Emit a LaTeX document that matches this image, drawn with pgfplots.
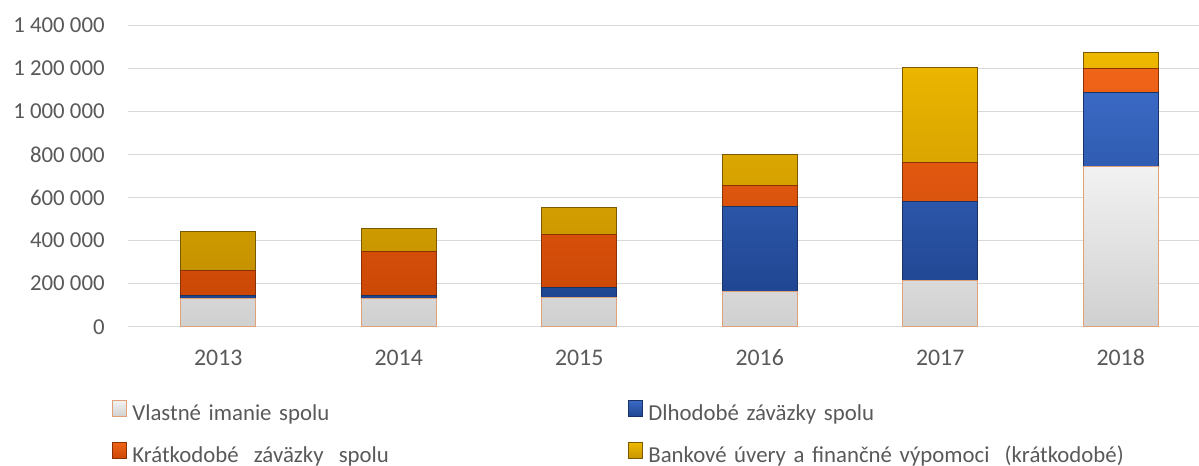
\documentclass[border=0pt]{standalone}
\usepackage{pgfplots}
\pgfplotsset{compat=1.18}
\usepackage{fontspec}
\setmainfont{Carlito}
\definecolor{tickgray}{HTML}{595959}
\definecolor{gridgray}{HTML}{D9D9D9}
\definecolor{gtop}{HTML}{F2F2F2}
\definecolor{gbot}{HTML}{D0D0D0}
\definecolor{gdraw}{HTML}{E0A07A}
\definecolor{btop}{HTML}{3A69C4}
\definecolor{bbot}{HTML}{1F4590}
\definecolor{bdraw}{HTML}{1A3366}
\definecolor{otop}{HTML}{F06418}
\definecolor{obot}{HTML}{CC4806}
\definecolor{odraw}{HTML}{8A3205}
\definecolor{ytop}{HTML}{EEB800}
\definecolor{ybot}{HTML}{C69300}
\definecolor{ydraw}{HTML}{7A5A00}
\begin{document}
\begin{tikzpicture}
\useasboundingbox (0,0) rectangle (599.5bp,233bp);
\begin{axis}[
  at={(64bp,69.65bp)}, anchor=south west,
  scale only axis, width=535.5bp, height=150.7bp,
  ybar stacked, bar width=37.5bp,
  xmin=-0.5, xmax=5.434, ymin=0, ymax=1400000,
  xtick={0,1,2,3,4,5},
  xticklabels={2013,2014,2015,2016,2017,2018},
  ytick={0,200000,400000,600000,800000,1000000,1200000,1400000},
  yticklabels={0,200 000,400 000,600 000,800 000,1 000 000,1 200 000,1 400 000},
  scaled y ticks=false,
  axis line style={draw=none},
  tick style={draw=none},
  ymajorgrids, grid style={gridgray, line width=0.6bp},
  yticklabel style={inner sep=0pt, xshift=-11.5bp, font=\fontsize{11.4bp}{13bp}\selectfont, text=tickgray},
  xticklabel style={inner sep=0pt, yshift=-11.3bp, font=\fontsize{11.9bp}{14bp}\selectfont, text=tickgray},
  legend columns=2,
  legend cell align=left,
  legend image code/.code={\draw[#1] (0bp,-1bp) rectangle (7.2bp,7.2bp);},
  legend style={at={(-0.01494,-0.2433)}, anchor=north west, draw=none, fill=none,
    inner sep=0pt, outer sep=0pt, row sep=8.3bp,
    font=\fontsize{11.4bp}{13bp}\selectfont, text=tickgray,
    nodes={inner sep=0pt, text width=245bp, align=left, text height=8bp, text depth=2.5bp},
    /tikz/every odd column/.append style={column sep=2.5bp},
    /tikz/every even column/.append style={column sep=2.8bp}},
]
\addplot[top color=gtop, bottom color=gbot, draw=gdraw, line width=0.5bp] coordinates {(0,132000) (1,130000) (2,137000) (3,163000) (4,216000) (5,743000)};
\addplot[top color=btop, bottom color=bbot, draw=bdraw, line width=0.5bp] coordinates {(0,14000) (1,14000) (2,45000) (3,395000) (4,365000) (5,344000)};
\addplot[top color=otop, bottom color=obot, draw=odraw, line width=0.5bp] coordinates {(0,114000) (1,206000) (2,245000) (3,96000) (4,181000) (5,113000)};
\addplot[top color=ytop, bottom color=ybot, draw=ydraw, line width=0.5bp] coordinates {(0,184000) (1,105000) (2,129000) (3,144000) (4,441000) (5,74000)};
\legend{Vlastné imanie spolu, Dlhodobé záväzky spolu, Krátkodobé\ \ záväzky\ \ spolu, Bankové úvery a finančné výpomoci\ \ (krátkodobé)}
\end{axis}
\end{tikzpicture}
\end{document}
